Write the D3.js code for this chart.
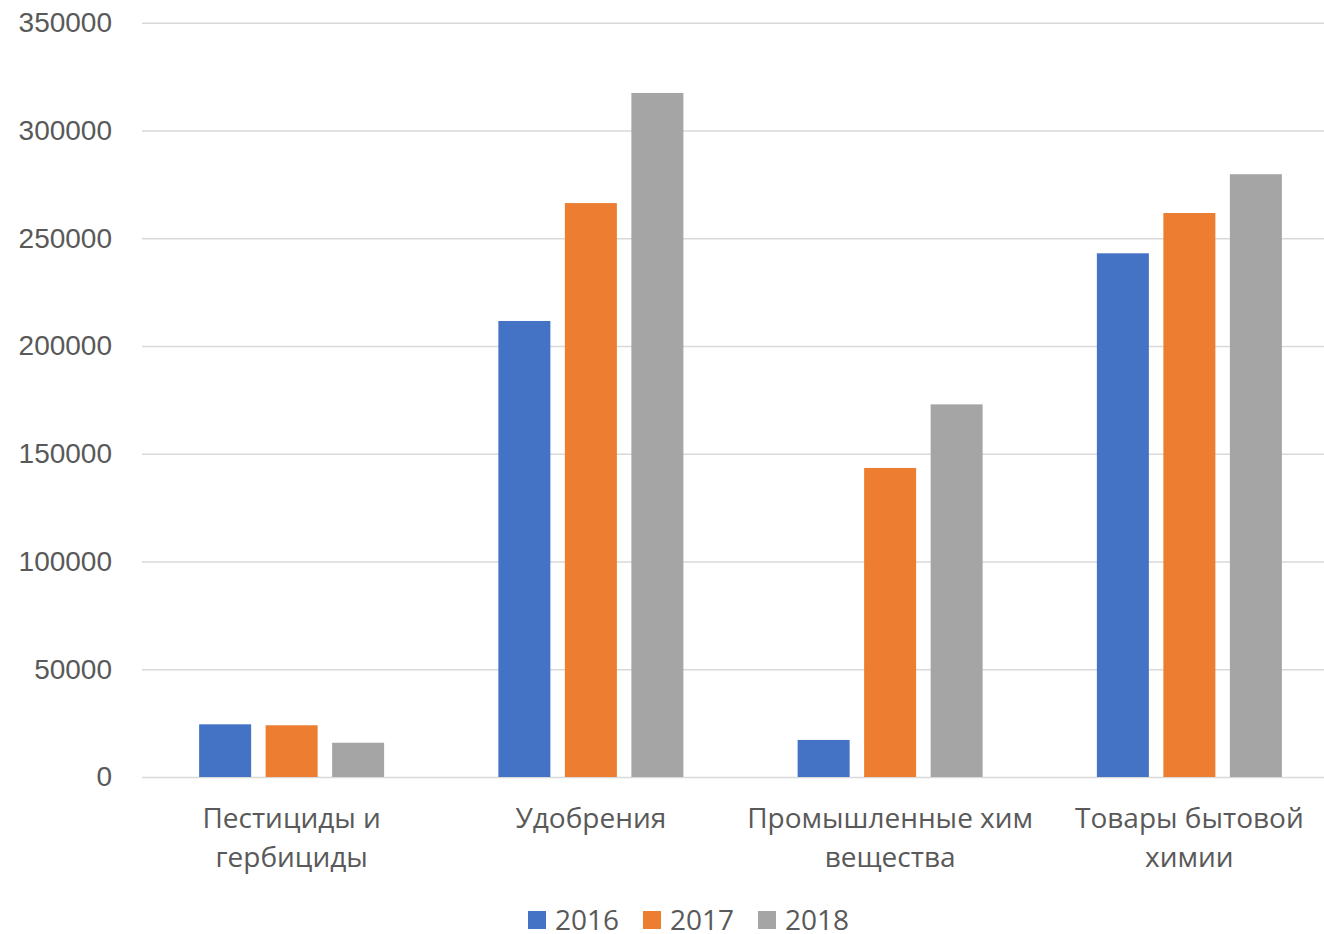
<!DOCTYPE html>
<html>
<head>
<meta charset="utf-8">
<script src="https://cdn.jsdelivr.net/npm/d3@7"></script>
<style>
  body { margin: 0; background: #fff; }
  svg { display: block; font-family: 'Open Sans', sans-serif; }
</style>
</head>
<body>
<svg id="chart" width="1324" height="934"></svg>
<script>
const categories = ['Пестициды и гербициды', 'Удобрения', 'Промышленные хим вещества', 'Товары бытовой химии'];
const years = ['2016', '2017', '2018'];
const values2016 = [24450, 211600, 17200, 243000];
const values2017 = [24000, 266300, 143400, 261700];
const values2018 = [15900, 317400, 172900, 279700];
const yTicks = [0, 50000, 100000, 150000, 200000, 250000, 300000, 350000];

const COLORS = ['#4472c4', '#ed7d31', '#a5a5a5'];
const TEXT_COLOR = '#595959';
const GRID_COLOR = '#d9d9d9';
const FONT_SIZE = '28px';

const series = [values2016, values2017, values2018];
// plot area runs a little past the right edge of the picture
const plotLeft = 142, plotRight = 1339, plotTop = 22.7, plotBottom = 777;

const svg = d3.select('#chart');

const y = d3.scaleLinear().domain([0, 350000]).range([plotBottom, plotTop]);
const x0 = d3.scaleBand().domain(categories).range([plotLeft, plotRight]).padding(0);
const x1 = d3.scaleBand().domain(years).range([0, x0.bandwidth()])
  .paddingInner(0.218).paddingOuter(0.859);

// grid + tick labels
const yAxis = svg.append('g')
  .attr('transform', `translate(${plotLeft},0)`)
  .call(d3.axisLeft(y).tickValues(yTicks).tickSize(-(plotRight - plotLeft)).tickPadding(30).tickFormat(d3.format('d')));
yAxis.select('.domain').remove();
yAxis.selectAll('.tick line').attr('stroke', GRID_COLOR).attr('stroke-width', 1.5);
yAxis.selectAll('.tick text')
  .attr('fill', TEXT_COLOR)
  .style('font-size', FONT_SIZE);

// bars
const groups = svg.append('g').selectAll('g')
  .data(categories)
  .enter().append('g')
  .attr('transform', (d) => `translate(${x0(d)},0)`);

groups.selectAll('rect')
  .data((d, i) => years.map((yr, j) => ({ year: yr, value: series[j][i], j: j })))
  .enter().append('rect')
  .attr('x', (d) => x1(d.year))
  .attr('width', x1.bandwidth())
  .attr('y', (d) => y(d.value))
  .attr('height', (d) => y(0) - y(d.value))
  .attr('fill', (d) => COLORS[d.j]);

// category labels, wrapped
const maxWidth = 292;
const labels = svg.append('g').selectAll('text')
  .data(categories)
  .enter().append('text')
  .attr('x', (d) => x0(d) + x0.bandwidth() / 2)
  .attr('y', 828)
  .attr('text-anchor', 'middle')
  .attr('fill', TEXT_COLOR)
  .style('font-size', FONT_SIZE);

labels.each(function (d) {
  let el = d3.select(this);
  let words = d.split(' ');
  let lines = [];
  let line = [];
  let tmp = el.append('tspan');
  words.forEach((w) => {
    line.push(w);
    tmp.text(line.join(' '));
    if (tmp.node().getComputedTextLength() > maxWidth && line.length > 1) {
      line.pop();
      lines.push(line.join(' '));
      line = [w];
    }
  });
  lines.push(line.join(' '));
  tmp.remove();
  lines.forEach((l, i) => {
    el.append('tspan')
      .attr('x', x0(d) + x0.bandwidth() / 2)
      .attr('dy', i === 0 ? 0 : 38.5)
      .text(l);
  });
});

// legend
const legendX = [528, 643, 758];
const legend = svg.append('g').selectAll('g')
  .data(years)
  .enter().append('g')
  .attr('transform', (d, i) => `translate(${legendX[i]},911)`);
legend.append('rect')
  .attr('width', 18).attr('height', 18)
  .attr('fill', (d, i) => COLORS[i]);
legend.append('text')
  .attr('x', 27).attr('y', 9)
  .attr('dy', '0.35em')
  .attr('fill', TEXT_COLOR)
  .style('font-size', FONT_SIZE)
  .text((d) => d);
</script>
</body>
</html>
